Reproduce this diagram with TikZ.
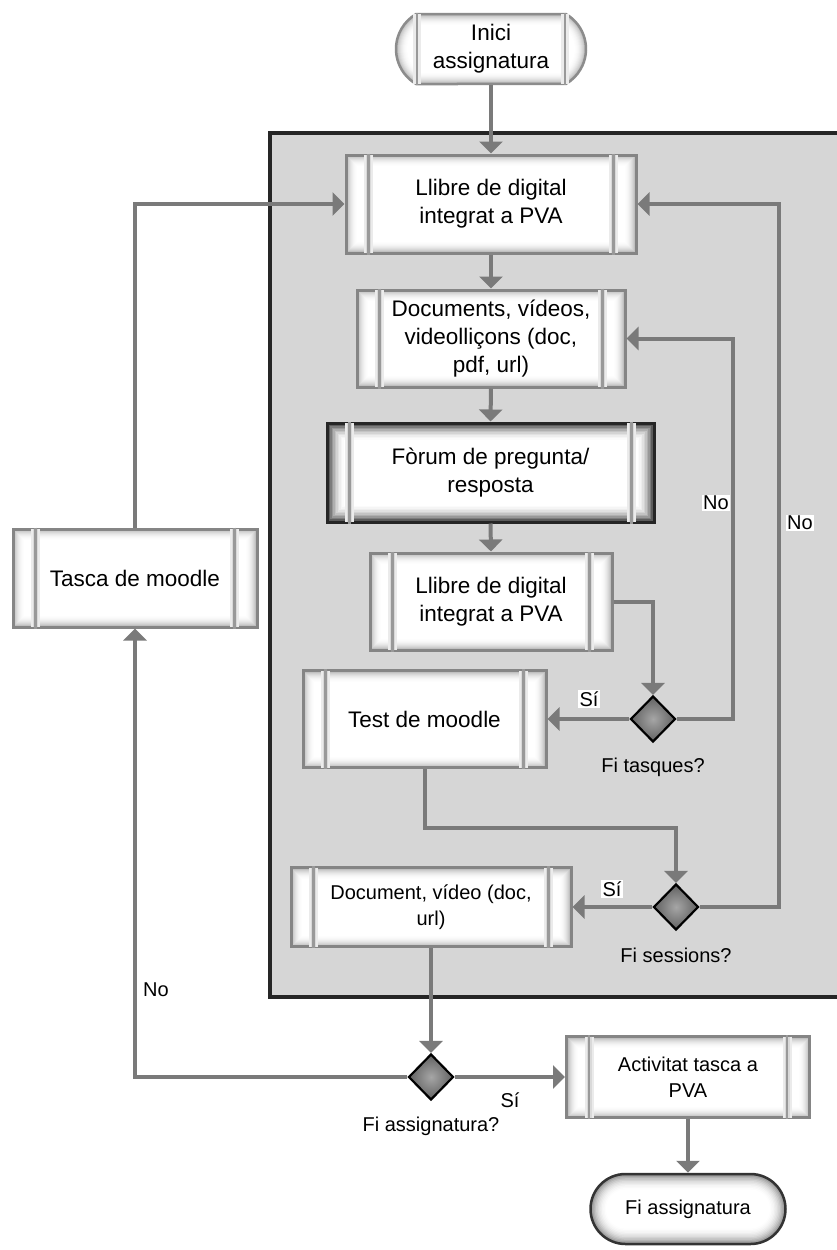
\documentclass[tikz,border=0pt]{standalone}
\usepackage{fontspec}
\setmainfont{Liberation Sans}
\usetikzlibrary{arrows.meta,shapes.geometric,shapes.misc}
\definecolor{panel}{HTML}{D6D6D6}
\definecolor{wire}{HTML}{7A7A7A}

% soft inner glow: stacked shapes fading from the edge colour to white
% #1 x, #2 y, #3 width, #4 height, #5 shape keys, #6 edge colour, #7 step per side
\newcommand\glowfill[7]{%
  \foreach \k/\c in {0/100,1/82,2/66,3/52,4/40,5/30,6/22,7/15,8/9,9/5,10/2,11/0}{%
    \node[#5, draw=none, inner sep=0pt, fill=#6!white!\c!white,
      minimum width={#3-2*#7*\k}, minimum height={#4-2*#7*\k}] at (#1,#2) {};
  }%
}
% the two vertical bars of a predefined-process box
\newcommand\sidebars[1]{%
  \foreach \a/\b/\s in {north west/south west/24, north east/south east/-24}{%
    \draw[line width=9pt, black!8, shorten <=1.5pt, shorten >=1.5pt]
      ([xshift=\s pt]#1.\a) -- ([xshift=\s pt]#1.\b);
    \draw[line width=5pt, black!15, shorten <=1.5pt, shorten >=1.5pt]
      ([xshift=\s pt]#1.\a) -- ([xshift=\s pt]#1.\b);
    \draw[line width=2.2pt, black!40]
      ([xshift=\s pt]#1.\a) -- ([xshift=\s pt]#1.\b);
  }%
}

\tikzset{
  wire/.style={draw=wire, line width=4pt},
  tip/.style={-{Triangle[length=12pt,width=23pt]}},
  bigtext/.style={font=\fontsize{22.5}{28}\selectfont},
  smalltext/.style={font=\fontsize{20}{26}\selectfont},
  procbox/.style={rectangle, draw=black!48, line width=3pt, inner sep=0pt, align=center},
  termbox/.style={rounded rectangle, line width=2.5pt, inner sep=0pt, align=center},
  decision/.style={diamond, draw=black, line width=2.2pt, inner sep=0pt,
    minimum width=45pt, minimum height=46pt, shading=radial,
    inner color=black!35, outer color=black!62},
  tag/.style={smalltext, inner sep=1.5pt},
  whitetag/.style={tag, fill=white},
}

\begin{document}
\begin{tikzpicture}[x=1pt,y=-1pt]
\useasboundingbox (0,0) rectangle (837,1250);
\clip (0,0) rectangle (837,1250);
\fill[white] (0,0) rectangle (837,1250);

% grey group panel
\fill[panel] (270,133) rectangle (870,997);
\draw[black!85, line width=3.5pt] (870,133) -- (270,133) -- (270,997) -- (870,997);

% start terminator
\glowfill{491}{49}{190}{70}{rounded rectangle, rounded rectangle arc length=120}{black!30}{1.0}
\node[termbox, bigtext, draw=black!45, rounded rectangle arc length=120,
  minimum width=190pt, minimum height=70pt] (inici) at (491,49) {Inici\\assignatura};
\foreach \s in {-74,74}{
  \draw[line width=8pt, black!8, shorten <=1.5pt, shorten >=1.5pt]
    ([xshift=\s pt]inici.north) -- ([xshift=\s pt]inici.south);
  \draw[line width=2.2pt, black!40] ([xshift=\s pt]inici.north) -- ([xshift=\s pt]inici.south);
}

% process boxes
\glowfill{491}{204}{290}{98}{rectangle}{black!30}{1.0}
\node[procbox, bigtext, minimum width=290pt, minimum height=98pt] (llibre1) at (491,204)
  {Llibre de digital\\integrat a PVA};
\sidebars{llibre1}

\glowfill{491}{338.5}{268}{97}{rectangle}{black!30}{1.0}
\node[procbox, bigtext, minimum width=268pt, minimum height=97pt] (docs) at (491,338.5)
  {Documents, vídeos,\\videolliçons (doc,\\pdf, url)};
\sidebars{docs}

\glowfill{490.5}{472.5}{327}{99}{rectangle}{black!78}{1.5}
\node[procbox, bigtext, draw=black!85, minimum width=327pt, minimum height=99pt] (forum) at (490.5,472.5)
  {Fòrum de pregunta/\\resposta};
\sidebars{forum}

\glowfill{491}{601.5}{242}{97}{rectangle}{black!30}{1.0}
\node[procbox, bigtext, minimum width=242pt, minimum height=97pt] (llibre2) at (491,601.5)
  {Llibre de digital\\integrat a PVA};
\sidebars{llibre2}

\glowfill{424.5}{719}{243}{97}{rectangle}{black!30}{1.0}
\node[procbox, bigtext, minimum width=243pt, minimum height=97pt] (test) at (424.5,719)
  {Test de moodle};
\sidebars{test}

\glowfill{431}{907}{280}{79}{rectangle}{black!30}{1.0}
\node[procbox, smalltext, minimum width=280pt, minimum height=79pt] (doc) at (431,907)
  {Document, vídeo (doc,\\url)};
\sidebars{doc}

\glowfill{135}{578}{244}{98}{rectangle}{black!30}{1.0}
\node[procbox, bigtext, minimum width=244pt, minimum height=98pt] (tasca) at (135,578)
  {Tasca de moodle};
\sidebars{tasca}

\glowfill{688}{1077}{243}{81}{rectangle}{black!30}{1.0}
\node[procbox, smalltext, minimum width=243pt, minimum height=81pt] (activ) at (688,1077)
  {Activitat tasca a\\PVA};
\sidebars{activ}

% end terminator
\glowfill{688}{1209}{195}{70}{rounded rectangle}{black!45}{1.4}
\node[termbox, smalltext, draw=black!80, minimum width=195pt, minimum height=70pt] (fi) at (688,1209)
  {Fi assignatura};

% decisions
\node[decision] (dtasq) at (653,719) {};
\node[decision] (dsess) at (676,907) {};
\node[decision] (dassig) at (431,1077) {};
\node[tag] (ltasq) at (653,767) {Fi tasques?};
\node[tag] (lsess) at (676,955) {Fi sessions?};
\node[tag] (lassig) at (431,1126) {Fi assignatura?};

% loop corners
\coordinate (cnodocs) at (733,338.5);
\coordinate (cnollibre) at (779,204);
\coordinate (cmid) at (550,828);

% connectors
\draw[wire,tip] (inici.south) -- (llibre1.north);
\draw[wire,tip] (llibre1.south) -- (docs.north);
\draw[wire,tip] (docs.south) -- (forum.north);
\draw[wire,tip] (forum.south) -- (llibre2.north);
\draw[wire,tip] (llibre2.east) -| (dtasq.north);
\draw[wire,tip] (dtasq.west) -- (test.east);
\draw[wire,tip] (dtasq.east) -| (cnodocs) -- (docs.east);
\draw[wire,tip] (test.south) |- (cmid) -| (dsess.north);
\draw[wire,tip] (dsess.west) -- (doc.east);
\draw[wire,tip] (dsess.east) -| (cnollibre) -- (llibre1.east);
\draw[wire,tip] (doc.south) -- (dassig.north);
\draw[wire,tip] (dassig.west) -| (tasca.south);
\draw[wire,tip] (tasca.north) |- (llibre1.west);
\draw[wire,tip] (dassig.east) -- (activ.west);
\draw[wire,tip] (activ.south) -- (fi.north);

% branch labels
\node[whitetag] (si1) at (589,699) {Sí};
\node[whitetag] (no1) at (716,503) {No};
\node[whitetag] (si2) at (612,889) {Sí};
\node[whitetag] (no2) at (800,523) {No};
\node[tag] (no3) at (156,990) {No};
\node[tag] (si3) at (510,1100) {Sí};
\end{tikzpicture}
\end{document}
